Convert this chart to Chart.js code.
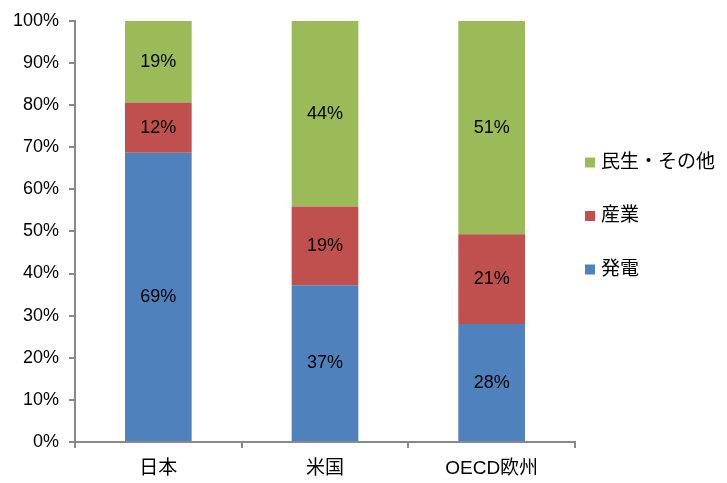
<!DOCTYPE html>
<html>
<head>
<meta charset="utf-8">
<script src="https://cdn.jsdelivr.net/npm/chart.js@4/dist/chart.umd.min.js"></script>
<style>
  html, body { margin: 0; padding: 0; background: #fff; }
  #wrap { width: 727px; height: 483px; }
</style>
</head>
<body>
<div id="wrap"><canvas id="grafico"></canvas></div>
<script>
// カテゴリと各系列の構成比 (%)
const categorias = ['日本', '米国', 'OECD欧州'];
const hatsuden = [68.7, 37.2, 28.0];
const sangyo = [11.9, 18.7, 21.3];
const minsei = [19.4, 44.1, 50.7];
const yTicks = [0, 10, 20, 30, 40, 50, 60, 70, 80, 90, 100];

const FONT = "'Liberation Sans', 'Noto Sans CJK JP', sans-serif";
const GRIS = '#898989';

// 棒の中にラベルを描く
const etiquetas = {
  id: 'etiquetas',
  afterDatasetsDraw(chart) {
    const ctx = chart.ctx;
    ctx.save();
    ctx.font = '18px ' + FONT;
    ctx.fillStyle = '#000';
    ctx.textAlign = 'center';
    ctx.textBaseline = 'middle';
    chart.data.datasets.forEach((ds, i) => {
      chart.getDatasetMeta(i).data.forEach((bar, j) => {
        const yMid = (bar.y + bar.base) / 2;
        ctx.fillText(Math.round(ds.data[j]) + '%', bar.x, yMid);
      });
    });
    ctx.restore();
  }
};

// 右側の凡例 (逆順)
const leyenda = {
  id: 'leyenda',
  afterDraw(chart) {
    const ctx = chart.ctx;
    const x = chart.chartArea.right + 10;
    const yCentro = 216;
    const paso = 53.5;
    const n = chart.data.datasets.length;
    ctx.save();
    ctx.font = '19px ' + FONT;
    ctx.textBaseline = 'middle';
    ctx.textAlign = 'left';
    chart.data.datasets.slice().reverse().forEach((ds, k) => {
      const y = yCentro + (k - (n - 1) / 2) * paso;
      ctx.fillStyle = ds.backgroundColor;
      ctx.fillRect(x, y - 5, 10, 10);
      ctx.fillStyle = '#000';
      ctx.fillText(ds.label, x + 16, y);
    });
    ctx.restore();
  }
};

window.onload = function () {
  const ctx = document.getElementById('grafico').getContext('2d');
  new Chart(ctx, {
    type: 'bar',
    data: {
      labels: categorias,
      datasets: [
        { label: '発電', data: hatsuden, backgroundColor: '#4F81BD' },
        { label: '産業', data: sangyo, backgroundColor: '#C0504D' },
        { label: '民生・その他', data: minsei, backgroundColor: '#9BBB59' }
      ]
    },
    options: {
      responsive: true,
      maintainAspectRatio: false,
      animation: false,
      categoryPercentage: 1,
      barPercentage: 0.4,
      layout: { padding: { top: 11, right: 152, bottom: 0, left: 0 } },
      plugins: {
        legend: { display: false },
        tooltip: { enabled: false }
      },
      scales: {
        x: {
          stacked: true,
          afterFit: s => { s.height = 41; },
          border: { color: GRIS, width: 2 },
          grid: { drawOnChartArea: false, color: GRIS, tickLength: 6, lineWidth: 2 },
          ticks: { color: '#000', font: { family: FONT, size: 19 }, padding: 9 }
        },
        y: {
          stacked: true,
          min: 0,
          max: 100,
          afterBuildTicks: s => { s.ticks = yTicks.map(v => ({ value: v })); },
          afterFit: s => { s.width = 75; },
          border: { color: GRIS, width: 2 },
          grid: { drawOnChartArea: false, color: GRIS, tickLength: 6, lineWidth: 2 },
          ticks: {
            color: '#000',
            font: { family: FONT, size: 18 },
            padding: 10,
            callback: v => v + '%'
          }
        }
      }
    },
    plugins: [etiquetas, leyenda]
  });
};
</script>
</body>
</html>
